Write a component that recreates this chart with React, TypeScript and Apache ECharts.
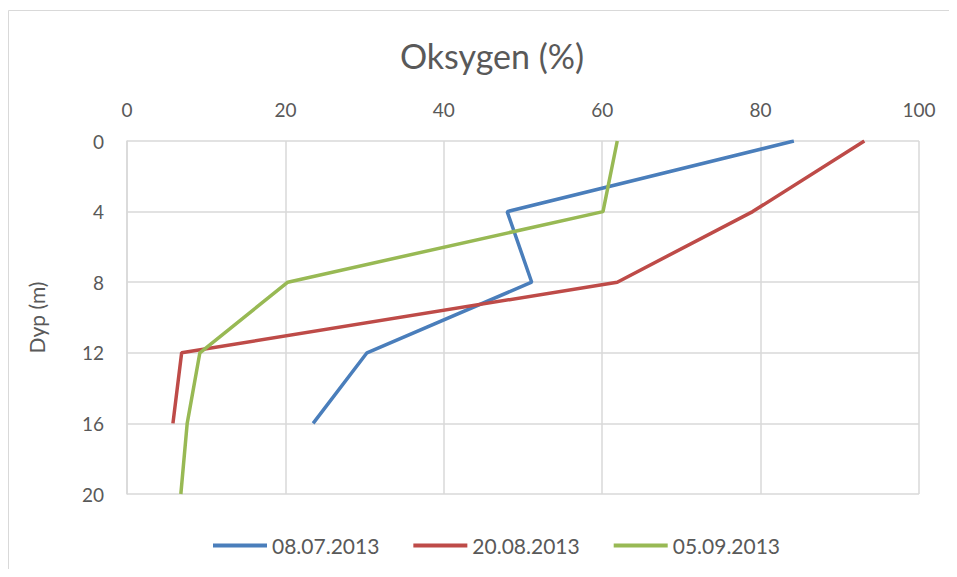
import React, { useEffect, useRef } from "react";
import * as echarts from "echarts";

const depths = [0, 4, 8, 12, 16, 20];
const seriesNames = ["08.07.2013", "20.08.2013", "05.09.2013"];
const oxy0807 = [84.2, 48.0, 51.1, 30.3, 23.5];
const oxy2008 = [93.1, 79.0, 61.9, 6.9, 5.8];
const oxy0509 = [61.9, 60.1, 20.3, 9.2, 7.6, 6.8];
const colors = ["#4a7ebb", "#be4b48", "#98b954"];

const FONT = "Lato, 'Open Sans', sans-serif";

export default function App() {
  const ref = useRef<HTMLDivElement>(null);
  useEffect(() => {
    if (!ref.current) return;
    const chart = echarts.init(ref.current, null, { renderer: "svg" });
    const all = [oxy0807, oxy2008, oxy0509];
    chart.setOption({
      animation: false,
      backgroundColor: "#ffffff",
      color: colors,
      title: {
        text: "Oksygen (%)",
        left: 487,
        textAlign: "center",
        top: 33,
        textStyle: { fontFamily: FONT, fontSize: 34, fontWeight: "normal", color: "#595959" },
      },
      graphic: [
        {
          type: "rect",
          shape: { x: 8.5, y: 10.5, width: 960, height: 580 },
          style: { fill: "none", stroke: "#d9d9d9", lineWidth: 1 },
          silent: true,
        },
      ],
      legend: {
        bottom: 16,
        left: 208,
        itemWidth: 54,
        itemHeight: 4,
        itemGap: 34,
        icon: "rect",
        textStyle: { fontFamily: FONT, fontSize: 21, color: "#595959" },
        data: seriesNames,
      },
      grid: { left: 127, right: 38, top: 141, bottom: 83 },
      xAxis: {
        type: "value",
        position: "top",
        min: 0,
        max: 100,
        interval: 20,
        axisLine: { show: false },
        axisTick: { show: false },
        axisLabel: { fontFamily: FONT, fontSize: 19, color: "#595959", margin: 22 },
        splitLine: { show: true, lineStyle: { color: "#d9d9d9", width: 1.5 } },
      },
      yAxis: {
        type: "value",
        inverse: true,
        min: 0,
        max: 20,
        interval: 4,
        name: "Dyp (m)",
        nameLocation: "middle",
        nameGap: 80,
        nameRotate: 90,
        nameTextStyle: { fontFamily: FONT, fontSize: 21, color: "#595959" },
        axisLine: { show: true, lineStyle: { color: "#d9d9d9", width: 1.5 } },
        axisTick: { show: false },
        axisLabel: { fontFamily: FONT, fontSize: 19, color: "#595959", margin: 23 },
        splitLine: { show: true, lineStyle: { color: "#d9d9d9", width: 1.5 } },
      },
      series: seriesNames.map((name, i) => ({
        name,
        type: "line",
        showSymbol: false,
        symbol: "none",
        lineStyle: { width: 3.5, color: colors[i] },
        data: all[i].map((v, j) => [v, depths[j]]),
      })),
    });
    return () => chart.dispose();
  }, []);
  return <div ref={ref} style={{ width: 957, height: 577, margin: -8 }} />;
}
